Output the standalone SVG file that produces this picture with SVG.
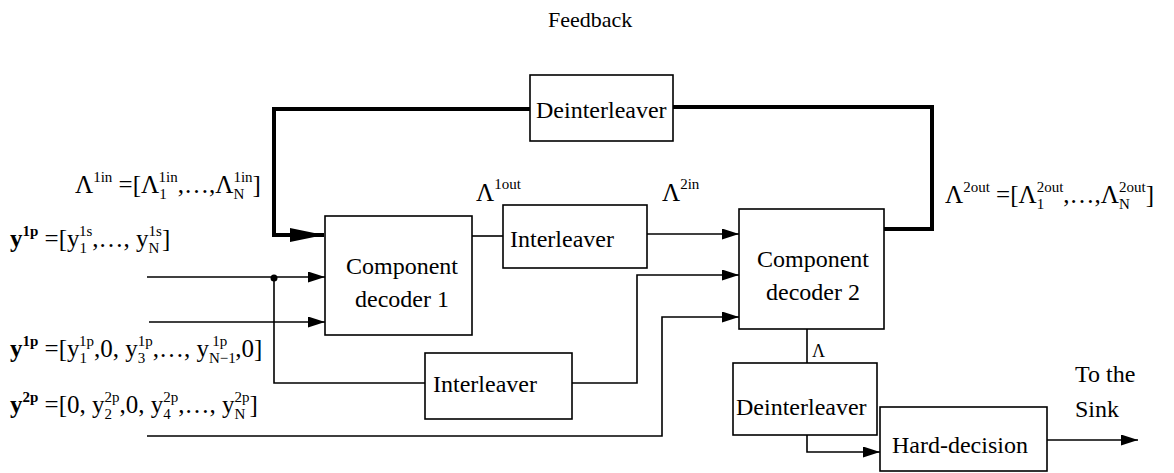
<svg xmlns="http://www.w3.org/2000/svg" width="1174" height="473" viewBox="0 0 1174 473">
<style>
text{font-family:'Liberation Serif','Times New Roman',serif;fill:#000}
.box{fill:#fff;stroke:#000;stroke-width:1.6}
.ln{fill:none;stroke:#000;stroke-width:1.6}
.thick{fill:none;stroke:#000;stroke-width:4}
.t{font-size:24px}
.m{font-size:25px}
.s{font-size:15px}
.b{font-weight:bold}
</style>
<defs>
<marker id="ah" markerUnits="userSpaceOnUse" markerWidth="17" markerHeight="11" refX="17" refY="5.5" orient="auto"><path d="M0,0 L17,5.5 L0,11 z" fill="#000"/></marker>
<marker id="ahb" markerUnits="userSpaceOnUse" markerWidth="34" markerHeight="14" refX="34" refY="7" orient="auto"><path d="M0,0 L34,7 L0,14 z" fill="#000"/></marker>
</defs>
<rect width="1174" height="473" fill="#fff"/>
<g id="connectors">
<path class="thick" d="M884,229 H932 V107 H673"/>
<path class="thick" d="M530,109 H274 V235 H324" marker-end="url(#ahb)"/>
<path class="ln" d="M147,277 H325" marker-end="url(#ah)"/>
<path class="ln" d="M274,277 V383 H425"/>
<circle cx="274" cy="278" r="3.5" fill="#000"/>
<path class="ln" d="M149,322 H325" marker-end="url(#ah)"/>
<path class="ln" d="M472,236 H503"/>
<path class="ln" d="M647,234 H739" marker-end="url(#ah)"/>
<path class="ln" d="M572,383 H637 V275 H739" marker-end="url(#ah)"/>
<path class="ln" d="M147,436 H662 V317 H739" marker-end="url(#ah)"/>
<path class="ln" d="M807,329 V363"/>
<path class="ln" d="M807,435 V452 H880" marker-end="url(#ah)"/>
<path class="ln" d="M1047,440 H1138" marker-end="url(#ah)"/>
</g>
<g id="feedback-label"><text x="548" y="27" style="font-size:22px">Feedback</text></g>
<g id="deinterleaver-top">
<rect class="box" x="530" y="75" width="143" height="66"/>
<text class="t" x="536" y="118">Deinterleaver</text>
</g>
<g id="decoder1">
<rect class="box" x="325" y="216" width="147" height="119"/>
<text class="t" x="402" y="274" text-anchor="middle">Component</text>
<text class="t" x="402" y="307" text-anchor="middle">decoder 1</text>
</g>
<g id="interleaver-top">
<rect class="box" x="503" y="205" width="144" height="63"/>
<text class="t" x="510" y="247">Interleaver</text>
</g>
<g id="decoder2">
<rect class="box" x="739" y="209" width="145" height="120"/>
<text class="t" x="813" y="267" text-anchor="middle">Component</text>
<text class="t" x="813" y="300" text-anchor="middle">decoder 2</text>
</g>
<g id="interleaver-bottom">
<rect class="box" x="425" y="353" width="147" height="66"/>
<text class="t" x="433" y="392">Interleaver</text>
</g>
<g id="deinterleaver-bottom">
<rect class="box" x="733" y="363" width="144" height="72"/>
<text class="t" x="736" y="415">Deinterleaver</text>
</g>
<g id="hard-decision">
<rect class="box" x="880" y="407" width="167" height="64"/>
<text class="t" x="892" y="453">Hard-decision</text>
</g>
<g id="sink-label">
<text class="t" x="1075" y="382">To the</text>
<text class="t" x="1075" y="417">Sink</text>
</g>
<g id="labels">
<text x="812" y="357" style="font-size:18px">Λ</text>
<text class="m" x="476" y="201">Λ<tspan class="s" dy="-12">1out</tspan></text>
<text class="m" x="662" y="201">Λ<tspan class="s" dy="-12">2in</tspan></text>
<text class="m" x="75" y="193">Λ<tspan class="s" dy="-11">1in</tspan><tspan dy="11"> =[</tspan>Λ<tspan class="s" dy="6">1</tspan><tspan class="s" dx="-7.5" dy="-17">1in</tspan><tspan dy="11">,…,</tspan>Λ<tspan class="s" dy="6">N</tspan><tspan class="s" dx="-10.8" dy="-17">1in</tspan><tspan dy="11">]</tspan></text>
<text class="m" x="945" y="203">Λ<tspan class="s" dy="-11">2out</tspan><tspan dy="11"> =[</tspan>Λ<tspan class="s" dy="6">1</tspan><tspan class="s" dx="-7.5" dy="-17">2out</tspan><tspan dy="11">,…,</tspan>Λ<tspan class="s" dy="6">N</tspan><tspan class="s" dx="-10.8" dy="-17">2out</tspan><tspan dy="11">]</tspan></text>
<text class="m" x="10" y="247"><tspan class="b">y</tspan><tspan class="s b" dy="-11">1p</tspan><tspan dy="11"> =[y</tspan><tspan class="s" dy="6">1</tspan><tspan class="s" dx="-7.5" dy="-17">1s</tspan><tspan dy="11">,…, y</tspan><tspan class="s" dy="6">N</tspan><tspan class="s" dx="-10.8" dy="-17">1s</tspan><tspan dy="11">]</tspan></text>
<text class="m" x="10" y="357"><tspan class="b">y</tspan><tspan class="s b" dy="-11">1p</tspan><tspan dy="11"> =[y</tspan><tspan class="s" dy="6">1</tspan><tspan class="s" dx="-7.5" dy="-17">1p</tspan><tspan dy="11">,0, y</tspan><tspan class="s" dy="6">3</tspan><tspan class="s" dx="-7.5" dy="-17">1p</tspan><tspan dy="11">,…, y</tspan><tspan class="s" dy="6">N−1</tspan><tspan class="s" dx="-23" dy="-17">1p</tspan><tspan dx="8" dy="11">,0]</tspan></text>
<text class="m" x="10" y="413"><tspan class="b">y</tspan><tspan class="s b" dy="-11">2p</tspan><tspan dy="11"> =[0, y</tspan><tspan class="s" dy="6">2</tspan><tspan class="s" dx="-7.5" dy="-17">2p</tspan><tspan dy="11">,0, y</tspan><tspan class="s" dy="6">4</tspan><tspan class="s" dx="-7.5" dy="-17">2p</tspan><tspan dy="11">,…, y</tspan><tspan class="s" dy="6">N</tspan><tspan class="s" dx="-10.8" dy="-17">2p</tspan><tspan dy="11">]</tspan></text>
</g>
</svg>
